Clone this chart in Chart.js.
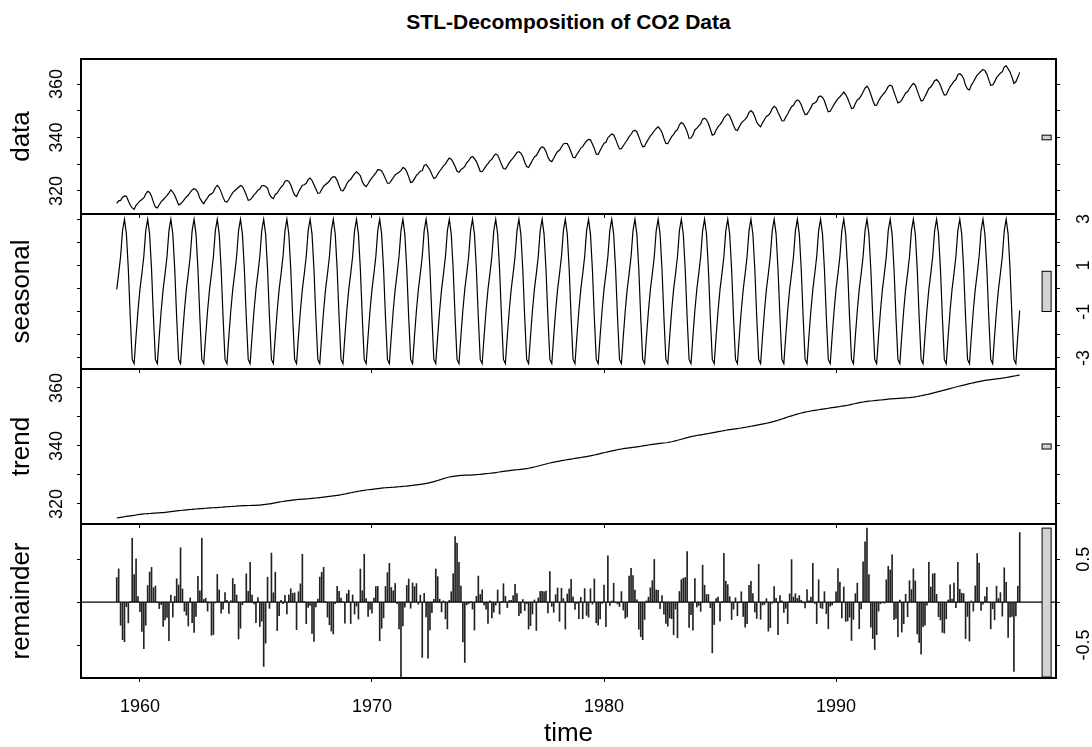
<!DOCTYPE html>
<html>
<head>
<meta charset="utf-8">
<title>STL-Decomposition of CO2 Data</title>
<script src="https://cdn.jsdelivr.net/npm/chart.js@4.4.0/dist/chart.umd.min.js"></script>
<style>
  body { margin: 0; background: #fff; width: 1092px; height: 747px; position: relative; overflow: hidden;
         font-family: 'Liberation Sans', Arial, sans-serif; }
  #title { position: absolute; left: 81px; width: 975px; top: 10px; text-align: center;
           font-weight: bold; font-size: 21px; line-height: 24px; color: #000; }
  canvas { position: absolute; left: 0; }
</style>
</head>
<body>
<div id="title">STL-Decomposition of CO2 Data</div>
<script>
// monthly Mauna Loa CO2 (ppm), one row per year, Jan..Dec
const startYear = 1959;
const co2ByYear = [
  [315.42, 316.31, 316.50, 317.56, 318.13, 318.00, 316.39, 314.65, 313.68, 313.18, 314.66, 315.43],
  [316.27, 316.81, 317.42, 318.87, 319.87, 319.43, 318.01, 315.74, 314.00, 313.68, 314.84, 316.03],
  [316.73, 317.54, 318.38, 319.31, 320.42, 319.61, 318.42, 316.63, 314.83, 315.16, 315.94, 316.85],
  [317.78, 318.40, 319.53, 320.42, 320.85, 320.45, 319.45, 317.25, 316.11, 315.27, 316.53, 317.53],
  [318.58, 318.92, 319.70, 321.22, 322.08, 321.31, 319.58, 317.61, 316.05, 315.83, 316.91, 318.20],
  [319.41, 320.07, 320.74, 321.40, 322.06, 321.73, 320.27, 318.54, 316.54, 316.71, 317.53, 318.55],
  [319.27, 320.28, 320.73, 321.97, 322.00, 321.71, 321.05, 318.71, 317.66, 317.14, 318.70, 319.25],
  [320.46, 321.43, 322.23, 323.54, 323.91, 323.59, 322.24, 320.20, 318.48, 317.94, 319.63, 320.87],
  [322.17, 322.34, 322.88, 324.25, 324.83, 323.93, 322.38, 320.76, 319.10, 319.24, 320.56, 321.80],
  [322.40, 322.99, 323.73, 324.86, 325.40, 325.20, 323.98, 321.95, 320.18, 320.09, 321.16, 322.74],
  [323.83, 324.26, 325.47, 326.50, 327.21, 326.54, 325.72, 323.50, 322.22, 321.62, 322.69, 323.95],
  [324.89, 325.82, 326.77, 327.97, 327.91, 327.50, 326.18, 324.53, 322.93, 322.90, 323.85, 324.96],
  [326.01, 326.51, 327.01, 327.62, 328.76, 328.40, 327.20, 325.27, 323.20, 323.40, 324.63, 325.85],
  [326.60, 327.47, 327.58, 329.56, 329.90, 328.92, 327.88, 326.16, 324.68, 325.04, 326.34, 327.39],
  [328.37, 329.40, 330.14, 331.33, 332.31, 331.90, 330.70, 329.15, 327.35, 327.02, 327.99, 328.48],
  [329.18, 330.55, 331.32, 332.48, 332.92, 332.08, 331.01, 329.23, 327.27, 327.21, 328.29, 329.41],
  [330.23, 331.25, 331.87, 333.14, 333.80, 333.43, 331.73, 329.90, 328.40, 328.17, 329.32, 330.59],
  [331.58, 332.39, 333.33, 334.41, 334.71, 334.17, 332.89, 330.77, 329.14, 328.78, 330.14, 331.52],
  [332.75, 333.24, 334.53, 335.90, 336.57, 336.10, 334.76, 332.59, 331.42, 330.98, 332.24, 333.68],
  [334.80, 335.22, 336.47, 337.59, 337.84, 337.72, 336.37, 334.51, 332.60, 332.38, 333.75, 334.78],
  [336.05, 336.59, 337.79, 338.71, 339.30, 339.12, 337.56, 335.92, 333.75, 333.70, 335.12, 336.56],
  [337.84, 338.19, 339.91, 340.60, 341.29, 341.00, 339.39, 337.43, 335.72, 335.84, 336.93, 338.04],
  [339.06, 340.30, 341.21, 342.33, 342.74, 342.08, 340.32, 338.26, 336.52, 336.68, 338.19, 339.44],
  [340.57, 341.44, 342.53, 343.39, 343.96, 343.18, 341.88, 339.65, 337.81, 337.69, 339.09, 340.32],
  [341.20, 342.35, 342.93, 344.77, 345.58, 345.14, 343.81, 342.21, 339.69, 339.82, 340.98, 342.82],
  [343.52, 344.33, 345.11, 346.88, 347.25, 346.62, 345.22, 343.11, 340.90, 341.18, 342.80, 344.04],
  [344.79, 345.82, 347.25, 348.17, 348.74, 348.07, 346.38, 344.51, 342.92, 342.62, 344.06, 345.38],
  [346.11, 346.78, 347.68, 349.37, 350.03, 349.37, 347.76, 345.73, 344.68, 343.99, 345.48, 346.72],
  [347.84, 348.29, 349.23, 350.80, 351.66, 351.07, 349.33, 347.92, 346.27, 346.18, 347.64, 348.78],
  [350.25, 351.54, 352.05, 353.41, 354.04, 353.62, 352.22, 350.27, 348.55, 348.72, 349.91, 351.18],
  [352.60, 352.92, 353.53, 355.26, 355.52, 354.97, 353.75, 351.52, 349.64, 349.83, 351.14, 352.37],
  [353.50, 354.55, 355.23, 356.04, 357.00, 356.07, 354.67, 352.76, 350.82, 351.04, 352.69, 354.07],
  [354.59, 355.63, 357.03, 358.48, 359.22, 358.12, 356.06, 353.92, 352.05, 352.11, 353.64, 354.89],
  [355.88, 356.63, 357.72, 359.07, 359.58, 359.17, 356.94, 354.92, 352.94, 353.23, 354.09, 355.33],
  [356.63, 357.10, 358.32, 359.41, 360.23, 359.55, 357.53, 355.48, 353.67, 353.95, 355.30, 356.78],
  [358.34, 358.89, 359.95, 361.25, 361.67, 360.94, 359.55, 357.49, 355.84, 356.00, 357.59, 359.05],
  [359.98, 361.03, 361.66, 363.48, 363.82, 363.30, 361.94, 359.50, 358.11, 357.80, 359.61, 360.74],
  [362.09, 363.29, 364.06, 364.76, 365.45, 365.01, 363.70, 361.54, 359.51, 359.65, 360.80, 362.38],
  [363.23, 364.06, 364.61, 366.40, 366.84, 365.68, 364.52, 362.57, 360.24, 360.83, 362.49, 364.34]
];
// periodic seasonal component (Jan..Dec)
const seasonalByMonth = [-0.04, 0.64, 1.38, 2.50, 2.99, 2.35, 0.83, -1.25, -3.06, -3.24, -2.05, -0.95];

// axis ticks / labels
const xTickYears = [1960, 1970, 1980, 1990];
const dataTicks = [320, 330, 340, 350, 360];
const dataLabels = [320, 340, 360];
const seasonalTicks = [-3, -2, -1, 0, 1, 2, 3];
const seasonalLabels = [3, 1, -1, -3];
const trendTicks = [320, 330, 340, 350, 360];
const trendLabels = [320, 340, 360];
const remainderTicks = [-0.5, 0, 0.5];
const remainderLabels = [0.5, -0.5];

// local linear (tricube) smoother, like the trend step of stl
function loess(y, span) {
  const n = y.length, h = (span - 1) / 2, out = [];
  for (let i = 0; i < n; i++) {
    let lo = Math.max(0, i - h), hi = Math.min(n - 1, i + h);
    if (i - h < 0) hi = Math.min(n - 1, span - 1);
    if (i + h > n - 1) lo = Math.max(0, n - span);
    const maxd = Math.max(i - lo, hi - i) + 1;
    let sw = 0, sx = 0, sy = 0, sxx = 0, sxy = 0;
    for (let j = lo; j <= hi; j++) {
      const d = Math.abs(j - i) / maxd;
      const w = Math.pow(1 - d * d * d, 3);
      sw += w; sx += w * j; sy += w * y[j]; sxx += w * j * j; sxy += w * j * y[j];
    }
    const mx = sx / sw, my = sy / sw;
    const b = (sxy / sw - mx * my) / (sxx / sw - mx * mx);
    out.push(my + b * (i - mx));
  }
  return out;
}

const co2 = co2ByYear.flat();
const time = co2.map((v, i) => startYear + i / 12);
const seasonal = co2.map((v, i) => seasonalByMonth[i % 12]);
const trend = loess(co2.map((v, i) => v - seasonal[i]), 19);
const remainder = co2.map((v, i) => v - seasonal[i] - trend[i]);

// grey range bars: same data length in every panel (smallest component range)
const rng = a => [Math.min(...a), Math.max(...a)];
const barLen = Math.min(...[co2, seasonal, trend, remainder].map(a => { const r = rng(a); return r[1] - r[0]; }));
const mid = a => { const r = rng(a); return (r[0] + r[1]) / 2; };

const layout = { left: 81, right: 1056, tops: [59, 214, 369, 524], bottom: 678, xMin: 1957.46, xMax: 1999.48, barX: [1998.88, 1999.27] };

Chart.defaults.font.family = "'Liberation Sans', Arial, sans-serif";
Chart.defaults.font.size = 18;
Chart.defaults.color = '#000';

const panelPlugin = {
  id: 'panel',
  afterDatasetsDraw(chart, args, o) {
    const { ctx, chartArea: a } = chart;
    const x = chart.scales.x, y = chart.scales.y;
    ctx.save();
    ctx.strokeStyle = '#000';
    if (o.zero) {
      const y0 = y.getPixelForValue(0);
      ctx.lineWidth = 1.3;
      ctx.beginPath(); ctx.moveTo(a.left, y0); ctx.lineTo(a.right, y0); ctx.stroke();
    }
    // range bar
    const bx0 = x.getPixelForValue(layout.barX[0]), bx1 = x.getPixelForValue(layout.barX[1]);
    const by0 = y.getPixelForValue(o.mid + barLen / 2), by1 = y.getPixelForValue(o.mid - barLen / 2);
    ctx.fillStyle = '#d3d3d3';
    ctx.lineWidth = 1;
    ctx.fillRect(bx0, by0, bx1 - bx0, by1 - by0);
    ctx.strokeRect(bx0, by0, bx1 - bx0, by1 - by0);
    // panel frame
    ctx.lineWidth = 2;
    ctx.strokeRect(a.left, a.top, a.width, a.height);
    // rotated tick labels
    ctx.fillStyle = '#000';
    ctx.font = "18px 'Liberation Sans', Arial, sans-serif";
    ctx.textAlign = 'center';
    ctx.textBaseline = 'middle';
    const lx = o.side === 'left' ? a.left - 24 : a.right + 28;
    o.labels.forEach(v => {
      ctx.save();
      ctx.translate(lx, y.getPixelForValue(v));
      ctx.rotate(-Math.PI / 2);
      ctx.fillText(String(v), 0, 0);
      ctx.restore();
    });
    ctx.restore();
  }
};

const panels = [
  { name: 'data', values: co2, type: 'line', min: 311.4, max: 369.35, ticks: dataTicks, labels: dataLabels, side: 'left' },
  { name: 'seasonal', values: seasonal, type: 'line', min: -3.475, max: 3.216, ticks: seasonalTicks, labels: seasonalLabels, side: 'right' },
  { name: 'trend', values: trend, type: 'line', min: 313.1, max: 366.55, ticks: trendTicks, labels: trendLabels, side: 'left' },
  { name: 'remainder', values: remainder, type: 'bar', min: -0.885, max: 0.912, ticks: remainderTicks, labels: remainderLabels, side: 'right', zero: true }
];

panels.forEach((p, k) => {
  const top = layout.tops[k];
  const bottom = k < 3 ? layout.tops[k + 1] : layout.bottom;
  const last = k === 3;
  const xh = last ? 747 - bottom : 8;

  const canvas = document.createElement('canvas');
  canvas.width = 1092;
  canvas.height = bottom - top + 3 + xh;
  canvas.style.top = (top - 3) + 'px';
  document.body.appendChild(canvas);

  const yAxis = (position, width) => ({
    position: position,
    min: p.min, max: p.max, bounds: 'data',
    afterBuildTicks: s => { s.ticks = p.ticks.map(v => ({ value: v })); },
    afterFit: s => { s.width = width; },
    ticks: { display: false },
    grid: { drawOnChartArea: false, tickLength: 4, color: '#000' },
    border: { display: false },
    title: { display: position === 'left', text: p.name, color: '#000', font: { size: 26 }, padding: { top: 6 } }
  });

  new Chart(canvas, {
    type: p.type,
    data: {
      datasets: [{
        data: p.values.map((v, i) => ({ x: time[i], y: v })),
        borderColor: '#000',
        backgroundColor: '#222',
        borderWidth: p.type === 'bar' ? 0 : 1.2,
        pointRadius: 0,
        barThickness: 1,
        yAxisID: 'y'
      }]
    },
    options: {
      responsive: false,
      animation: false,
      devicePixelRatio: 1,
      layout: { padding: { top: 3, left: 0, right: 0, bottom: 0 } },
      plugins: {
        legend: { display: false },
        tooltip: { enabled: false },
        panel: { labels: p.labels, side: p.side, zero: !!p.zero, mid: mid(p.values) }
      },
      scales: {
        x: {
          type: 'linear', min: layout.xMin, max: layout.xMax, bounds: 'data', offset: false,
          afterBuildTicks: s => { s.ticks = xTickYears.map(v => ({ value: v })); },
          afterFit: s => { s.height = xh; },
          grid: { drawOnChartArea: false, tickLength: 4, color: '#000', offset: false },
          border: { display: false },
          ticks: { display: last, padding: 14, color: '#000', font: { size: 18 }, maxRotation: 0, callback: v => String(v) },
          title: { display: last, text: 'time', color: '#000', font: { size: 26, lineHeight: 1 }, padding: 0 }
        },
        y: yAxis('left', layout.left),
        y2: yAxis('right', 1092 - layout.right)
      }
    },
    plugins: [panelPlugin]
  });
});
</script>
</body>
</html>
